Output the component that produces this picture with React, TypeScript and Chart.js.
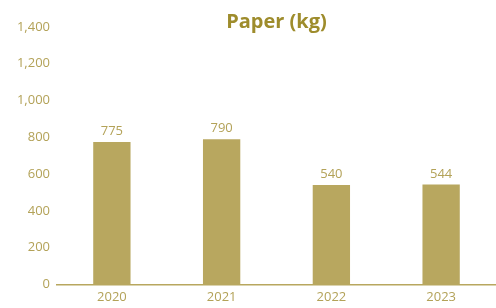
import React, { useEffect, useRef } from "react";
import { Chart, registerables } from "chart.js";
Chart.register(...registerables);

const categories = ["2020", "2021", "2022", "2023"];
const paperKg = [775, 790, 540, 544];
const titleText = "Paper (kg)";

const BAR = "#b8a75f";
const TEXT = "#b3a258";
const TITLE = "#9e8c2c";
const FONT = "'Open Sans', sans-serif";

const overlay = {
  id: "overlay",
  afterDatasetsDraw(chart: any) {
    const { ctx, chartArea } = chart;
    ctx.save();
    ctx.font = `bold 20px ${FONT}`;
    ctx.fillStyle = TITLE;
    ctx.textAlign = "center";
    ctx.textBaseline = "middle";
    ctx.fillText(titleText, (chartArea.left + chartArea.right) / 2, 22);
    const meta = chart.getDatasetMeta(0);
    ctx.font = `13px ${FONT}`;
    ctx.fillStyle = TEXT;
    ctx.textBaseline = "bottom";
    meta.data.forEach((el: any, i: number) => {
      ctx.fillText(String(paperKg[i]), el.x, el.y - 4);
    });
    ctx.restore();
  },
};

export default function App() {
  const ref = useRef<HTMLCanvasElement>(null);
  useEffect(() => {
    const chart = new Chart(ref.current!, {
      type: "bar",
      data: {
        labels: categories,
        datasets: [
          {
            data: paperKg,
            backgroundColor: BAR,
            categoryPercentage: 1,
            barPercentage: 0.34,
          },
        ],
      },
      options: {
        animation: false,
        responsive: false,
        layout: { padding: { top: 27, right: -2, bottom: -2, left: 0 } },
        plugins: { legend: { display: false }, tooltip: { enabled: false } },
        scales: {
          x: {
            grid: { display: false, drawTicks: false },
            border: { display: true, color: BAR, width: 1.5 },
            ticks: { color: TEXT, font: { family: FONT, size: 13 }, padding: 5 },
          },
          y: {
            min: 0,
            max: 1400,
            grid: { display: false, drawTicks: false },
            border: { display: false },
            ticks: {
              stepSize: 200,
              color: TEXT,
              font: { family: FONT, size: 13 },
              padding: 7,
              callback: (v: any) => Number(v).toLocaleString("en-US"),
            },
            afterFit: (s: any) => {
              s.width = 57;
            },
          },
        },
      },
      plugins: [overlay],
    });
    return () => chart.destroy();
  }, []);
  return (
    <div style={{ position: "fixed", left: 0, top: 0, width: 496, height: 308 }}>
      <canvas ref={ref} width={496} height={308} />
    </div>
  );
}
